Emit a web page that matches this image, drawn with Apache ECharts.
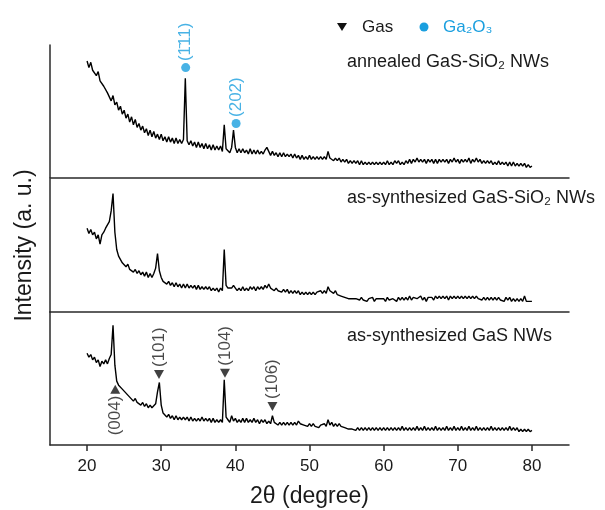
<!DOCTYPE html>
<html>
<head>
<meta charset="utf-8">
<script src="https://cdn.jsdelivr.net/npm/echarts@6/dist/echarts.min.js"></script>
<style>
html,body{margin:0;padding:0;background:#fff;}
#chart{width:605px;height:510px;}
</style>
</head>
<body>
<div id="chart"></div>
<script>
// ---- Data ----
// Sampling grid of 2θ: 20° to 80° every 0.25°
const twoTheta = [];
for (let i = 0; i <= 240; i++) twoTheta.push(20 + i * 0.25);

// Intensities (arbitrary units, 0-100 within each panel), 4 values per degree
const annealedGaSSiO2 = [
 88,83,87,81, 82,77,80,73, 74,69,70,64, 65,58,62,55, 57,51,54,48,
 51,45,48,42, 46,40,44,38, 41,36,39,34, 37,32,36,31, 35,30,33,29,
 33,28,31,27, 31,27,30,26, 30,26,29,26, 29,75,28,25, 28,24,27,23,
 27,23,26,22, 26,22,25,21, 25,21,24,21, 24,20,40,22, 23,19,23,36,
 23,19,22,19, 22,19,21,18, 22,18,21,18, 21,18,20,18, 21,23,20,17,
 20,17,19,16, 19,16,19,16, 18,16,18,15, 18,15,17,14, 17,14,16,14,
 17,14,16,14, 16,14,16,14, 16,14,20,15, 16,13,15,13, 15,12,14,12,
 14,11,13,11, 13,11,13,10, 13,10,12,10, 12,10,12,10, 12,10,12,10,
 12,10,13,10, 12,10,13,11, 13,10,12,10, 13,11,14,11, 14,12,15,12,
 14,12,14,11, 14,12,14,11, 14,11,14,12, 14,12,14,11, 14,12,15,12,
 14,11,14,12, 14,12,15,11, 14,12,15,12, 14,11,13,11, 13,11,13,10,
 12,10,13,10, 12,10,12,9, 12,9,12,9, 11,9,11,9, 11,8,10,8,
 9
];
const asSynGaSSiO2 = [
 63,59,62,58, 60,55,58,51, 58,60,63,64, 68,76,89,60, 47,42,41,37,
 37,34,36,32, 33,30,32,29, 31,28,30,27, 30,26,29,26, 29,33,44,31,
 26,23,23,21, 23,20,22,19, 22,19,21,18, 21,18,21,18, 20,18,20,17,
 20,17,19,17, 19,17,19,16, 18,16,18,15, 18,16,47,20, 18,18,18,20,
 18,16,18,16, 19,16,18,16, 19,17,19,16, 19,17,19,17, 20,18,21,18,
 19,16,18,16, 17,15,17,15, 17,14,16,14, 16,14,16,13, 15,13,15,13,
 15,13,15,13, 15,14,16,14, 16,14,19,16, 16,14,16,13, 14,12,13,11,
 11,10,10,10, 10,10,10,9, 11,9,10,8, 10,9,11,8, 10,10,10,9,
 10,8,11,9, 10,10,10,8, 11,9,11,9, 11,9,12,9, 11,11,10,10,
 12,9,11,8, 11,11,11,9, 12,10,12,10, 12,10,12,9, 12,10,12,10,
 12,10,12,10, 12,10,12,10, 12,10,12,10, 11,9,11,9, 11,9,11,9,
 11,9,11,9, 10,8,11,9, 11,8,10,8, 10,8,10,8, 12,8,9,8,
 8
];
const asSynGaS = [
 69,66,68,64, 66,62,64,59, 63,61,64,61, 65,68,90,60, 48,45,45,42,
 41,39,38,36, 36,33,35,32, 33,30,32,29, 31,28,30,28, 29,31,40,47,
 30,24,23,21, 23,20,22,19, 22,19,21,19, 21,19,21,18, 21,18,20,18,
 20,18,21,18, 20,18,20,17, 20,17,19,17, 19,17,49,21, 19,17,22,18,
 20,17,19,17, 20,17,20,17, 19,17,20,17, 19,16,19,17, 19,16,18,16,
 22,17,17,15, 17,15,17,15, 17,15,17,15, 17,15,18,16, 17,15,16,14,
 16,14,16,14, 15,13,15,14, 16,14,19,15, 17,14,16,14, 16,14,15,13,
 13,12,12,12, 13,11,13,11, 13,11,13,11, 13,11,13,11, 13,11,13,11,
 13,11,13,11, 13,11,13,11, 13,11,14,11, 13,11,13,11, 13,11,14,11,
 13,11,14,11, 13,11,13,11, 14,11,13,11, 13,11,14,11, 13,11,14,11,
 13,11,14,11, 13,11,14,11, 13,11,14,11, 13,11,13,11, 13,11,14,11,
 13,11,13,11, 13,11,13,11, 14,11,13,11, 13,10,12,10, 12,10,12,10,
 11
];

// Peak annotations
const ga2o3PeakAngles = [33.3, 40.1];
const ga2o3MarkerLevels = [83, 41];
const ga2o3Labels = ['(1\u030411)', '(202)'];

const gasPeakAngles = [23.8, 29.7, 38.6, 45.0];
const gasMarkerLevels = [42, 53, 54, 29];
const gasLabels = ['(004)', '(101)', '(104)', '(106)'];

const xTickValues = [20, 30, 40, 50, 60, 70, 80];
const panelTitles = ['annealed GaS-SiO\u2082 NWs', 'as-synthesized GaS-SiO\u2082 NWs', 'as-synthesized GaS NWs'];
const legendNames = ['Gas', 'Ga\u2082O\u2083'];

// ---- Chart ----
const BLUE = '#1a9fdf';
const AXIS = '#2a2a2a';
const TXT = '#1a1a1a';
const FONT = '"Liberation Sans", Arial, Helvetica, sans-serif';

const chart = echarts.init(document.getElementById('chart'), null, {renderer: 'canvas'});

const grids = [
  {left: 50, right: 36, top: 45, height: 133},
  {left: 50, right: 36, top: 179, height: 133},
  {left: 50, right: 36, top: 312, height: 133}
];

const xAxes = grids.map((g, i) => ({
  type: 'value', gridIndex: i, min: 15, max: 85,
  axisLine: {show: true, onZero: false, lineStyle: {color: AXIS, width: 1.5}},
  axisTick: i === 2 ? {show: true, inside: false, length: 6, customValues: xTickValues, lineStyle: {color: AXIS, width: 1.5}} : {show: false},
  axisLabel: i === 2 ? {show: true, margin: 13, customValues: xTickValues, fontSize: 17, color: TXT, fontFamily: FONT} : {show: false},
  splitLine: {show: false},
  name: i === 2 ? '2\u03b8 (degree)' : '',
  nameLocation: 'middle', nameGap: 40,
  nameTextStyle: {fontSize: 23, color: TXT, fontFamily: FONT}
}));

const yAxes = grids.map((g, i) => ({
  type: 'value', gridIndex: i, min: 0, max: 100,
  axisLine: {show: true, lineStyle: {color: AXIS, width: 1.5}},
  axisTick: {show: false}, axisLabel: {show: false}, splitLine: {show: false},
  name: i === 1 ? 'Intensity (a. u.)' : '',
  nameLocation: 'middle', nameGap: 14,
  nameTextStyle: {fontSize: 23, color: TXT, fontFamily: FONT}
}));

function lineSeries(values, idx) {
  return {
    type: 'line', xAxisIndex: idx, yAxisIndex: idx,
    data: twoTheta.map((t, i) => [t, values[i]]),
    showSymbol: false, symbol: 'none',
    lineStyle: {color: '#000', width: 1.4},
    silent: true, z: 2
  };
}

const labelBase = {show: true, rotate: 90, fontSize: 17, fontFamily: FONT, verticalAlign: 'middle'};

const ga2o3Series = {
  type: 'scatter', name: legendNames[1], xAxisIndex: 0, yAxisIndex: 0,
  symbol: 'circle', symbolSize: 9, itemStyle: {color: BLUE},
  data: ga2o3PeakAngles.map((a, i) => ({value: [a, ga2o3MarkerLevels[i]],
    label: Object.assign({}, labelBase, {position: 'top', align: 'left', distance: 2, color: BLUE, formatter: ga2o3Labels[i]})})),
  z: 5
};

const gasSeries = {
  type: 'scatter', name: legendNames[0], xAxisIndex: 2, yAxisIndex: 2,
  symbol: 'triangle', symbolSize: [10, 9], itemStyle: {color: '#111'},
  data: gasPeakAngles.map((a, i) => {
    const up = i === 0;
    return {
      value: [a, gasMarkerLevels[i]],
      symbolRotate: up ? 0 : 180,
      label: Object.assign({}, labelBase, up
        ? {position: 'bottom', align: 'right', distance: 0, offset: [-2, 0], color: TXT, formatter: gasLabels[i]}
        : {position: 'top', align: 'left', distance: 3, color: TXT, formatter: gasLabels[i]})
    };
  }),
  z: 5
};

const panelLabelY = [62, 198, 336];

const option = {
  animation: false,
  backgroundColor: '#fff',
  grid: grids,
  xAxis: xAxes,
  yAxis: yAxes,
  series: [
    lineSeries(annealedGaSSiO2, 0),
    lineSeries(asSynGaSSiO2, 1),
    lineSeries(asSynGaS, 2),
    ga2o3Series,
    gasSeries
  ],
  graphic: [
    {type: 'polygon', shape: {points: [[337, 23], [347, 23], [342, 31]]}, style: {fill: '#111'}},
    {type: 'text', x: 362, y: 27, style: {text: legendNames[0], font: '17px ' + FONT, fill: TXT, textVerticalAlign: 'middle'}},
    {type: 'circle', shape: {cx: 424, cy: 27, r: 4.5}, style: {fill: BLUE}},
    {type: 'text', x: 443, y: 27, style: {text: legendNames[1], font: '17px ' + FONT, fill: BLUE, textVerticalAlign: 'middle'}}
  ].concat(panelTitles.map((t, i) => ({
    type: 'text', x: 347, y: panelLabelY[i],
    style: {text: t, font: '18px ' + FONT, fill: TXT, textVerticalAlign: 'middle'}
  })))
};

chart.setOption(option);
</script>
</body>
</html>
